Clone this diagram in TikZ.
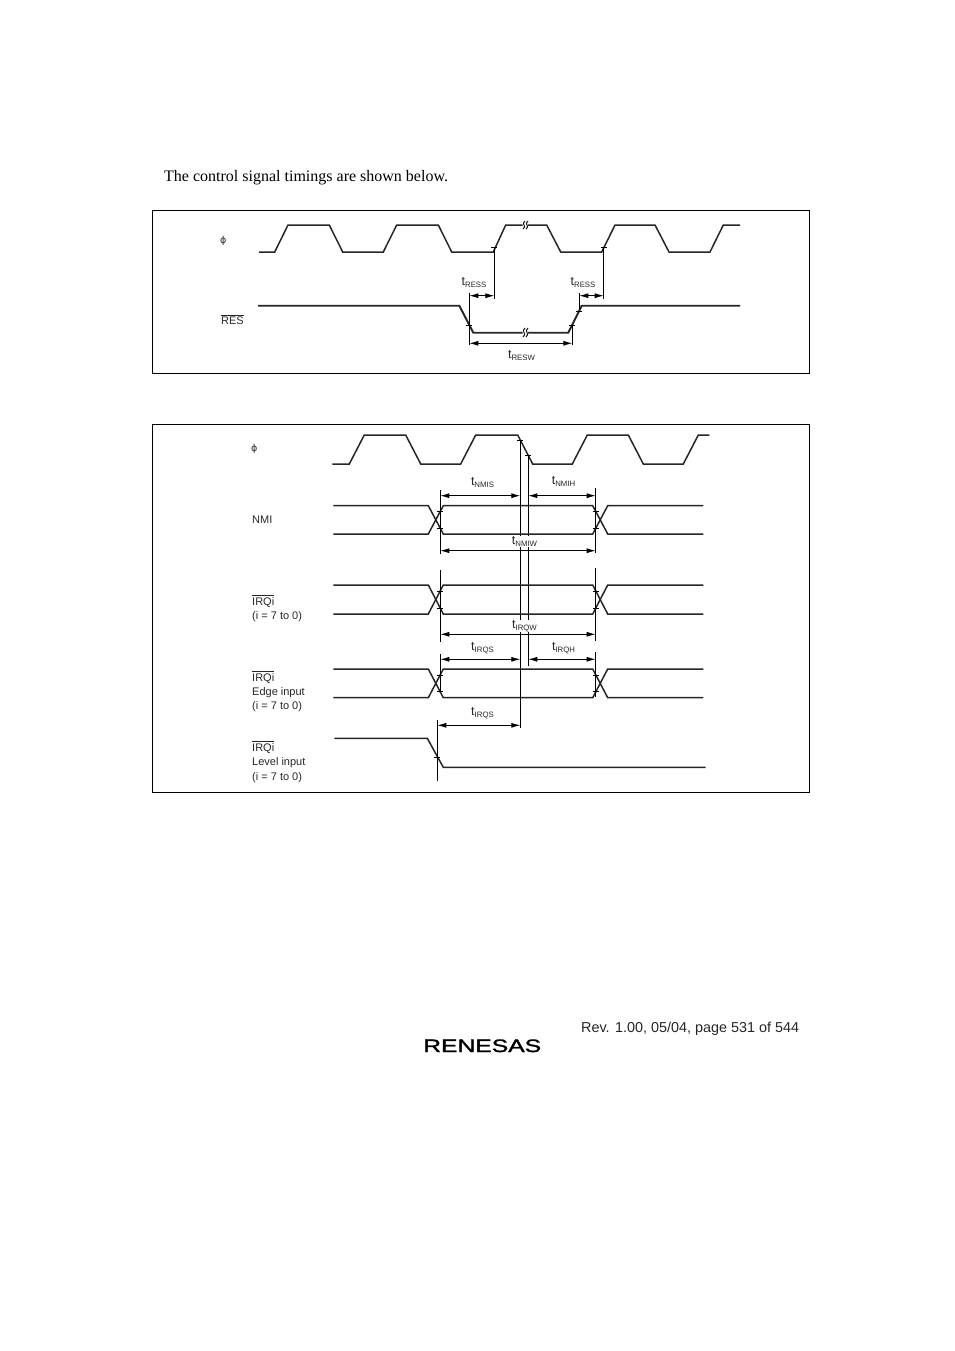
\documentclass[tikz,border=0pt]{standalone}
\usepackage{fontspec}
\setmainfont{Liberation Sans}
\newfontfamily\serifface{Liberation Serif}
\newfontfamily\phiface{DejaVu Sans}
\newfontfamily\logoface[FakeBold=1.5]{Liberation Sans}
\usetikzlibrary{arrows.meta}

\newcommand{\tsub}[1]{\fontsize{12.5}{12.5}\selectfont t\raisebox{-2.4pt}{\fontsize{7.8}{8}\selectfont #1}}
\newcommand{\barsig}[1]{$\overline{\mbox{#1}}$}

\tikzset{
  signal/.style={line width=1.5pt, color=black!85},
  guide/.style={line width=0.9pt, color=black},
  span/.style={line width=0.8pt, {Latex[length=9pt,width=5pt]}-{Latex[length=9pt,width=5pt]}},
  frame/.style={line width=0.9pt, color=black},
  timing/.style={font=\fontsize{11}{11}\selectfont, inner sep=0pt, anchor=base, fill=white, text=black!85},
  siglabel/.style={font=\fontsize{11}{11}\selectfont, inner sep=0pt, anchor=base west, text=black!85},
}

\begin{document}
\begin{tikzpicture}[x=1pt,y=-1pt]
\useasboundingbox (0,0) rectangle (954,1351);

% Heading
\node[anchor=base west, inner sep=0pt, font=\serifface\fontsize{16}{16}\selectfont] (heading) at (164,182)
{The control signal timings are shown below.};

% Reset frame
\draw[frame] (152.5,210.5) rectangle (809.5,373.5);

% Clock, reset frame
\draw[signal] (259,252) -- (274.7,252) -- (288,225) -- (329.3,225) -- (342.7,252) -- (383.3,252) -- (396.7,225) -- (438.3,225) -- (451.7,252) -- (493.3,252) -- (505.7,225) -- (522.5,225);
\draw[signal] (528,225) -- (546.7,225) -- (560.7,252) -- (601.7,252) -- (615,225) -- (655,225) -- (669,252) -- (710,252) -- (723.3,225) -- (740,225);
\draw[guide] (523,229) .. controls (527.5,226) and (520.5,224) .. (525,221);
\draw[guide] (526,229) .. controls (530.5,226) and (523.5,224) .. (528,221);
\node[siglabel, font=\phiface\fontsize{9.5}{9.5}\selectfont] (phireset) at (220,243.5) {ϕ};

% RES
\draw[signal, line width=1.9pt] (258,305.7) -- (459.3,305.7) -- (473.3,332.7) -- (522.5,332.7);
\draw[signal, line width=1.9pt] (528,332.7) -- (568.3,332.7) -- (581.7,305.7) -- (740,305.7);
\draw[guide] (523,337) .. controls (527.5,334) and (520.5,331) .. (525,328);
\draw[guide] (526,337) .. controls (530.5,334) and (523.5,331) .. (528,328);
\node[siglabel] (res) at (221,324) {\barsig{RES}};

% tRESS and tRESW
\coordinate (a1) at (469.3,295.7);
\coordinate (a2) at (494.3,295.7);
\coordinate (a3) at (579.3,295.7);
\coordinate (a4) at (603.7,295.7);
\coordinate (b1) at (469.3,343.3);
\coordinate (b2) at (572.3,343.3);
\draw[guide] (494.3,247) -- ++(0,52);
\draw[guide] (603.7,247) -- ++(0,52);
\draw[guide] (469.3,293) -- ++(0,52);
\draw[guide] (579.3,293) -- ++(0,17);
\draw[guide] (572.3,325) -- ++(0,20);
\draw[guide] (491.3,247) -- ++(6,0);
\draw[guide] (600.7,247) -- ++(6,0);
\draw[guide] (466.3,325.5) -- ++(6,0);
\draw[guide] (569.3,325.5) -- ++(6,0);
\draw[guide] (576.3,311) -- ++(6,0);
\draw[span] (a1) -- (a2);
\draw[span] (a3) -- (a4);
\draw[span] (b1) -- (b2);
\node[timing] (tress1) at (474,285.5) {\tsub{RESS}};
\node[timing] (tress2) at (583,285.5) {\tsub{RESS}};
\node[timing] (tresw) at (521.5,358) {\tsub{RESW}};

% Interrupt frame
\draw[frame] (152.5,424.5) rectangle (809.5,792.5);

% Clock, interrupt frame
\draw[signal] (332.3,464) -- (349.3,464) -- (364.3,435) -- (405.7,435) -- (420.7,464) -- (460.7,464) -- (475.7,435) -- (517.7,435) -- (532.7,464) -- (572.3,464) -- (587.3,435) -- (628.3,435) -- (643.3,464) -- (683.3,464) -- (698.3,435) -- (709.3,435);
\node[siglabel, font=\phiface\fontsize{9.5}{9.5}\selectfont] (phiint) at (251,451) {ϕ};

% Long guides behind the labels
\draw[guide] (520.3,440.7) -- (520.3,728.3);
\draw[guide] (528.3,455.7) -- (528.3,665.7);
\draw[guide] (517.3,440.7) -- ++(6,0);
\draw[guide] (525.3,455.7) -- ++(6,0);

% NMI, IRQi, IRQi edge
\foreach \up/\lo in {505.7/534, 585/614, 669/697.7} {
  \draw[signal] (333.3,\up) -- (428.3,\up) -- (443.3,\lo) -- (592.7,\lo) -- (607.7,\up) -- (703.3,\up);
  \draw[signal] (333.3,\lo) -- (428.3,\lo) -- (443.3,\up) -- (592.7,\up) -- (607.7,\lo) -- (703.3,\lo);
  \draw[guide] (437.3,\up+6) -- ++(6,0);
  \draw[guide] (437.3,\lo-6) -- ++(6,0);
  \draw[guide] (592.7,\up+6) -- ++(6,0);
  \draw[guide] (592.7,\lo-6) -- ++(6,0);
}
\node[siglabel] (nmi) at (252,523) {NMI};
\node[siglabel] (irq) at (252,605) {\barsig{IRQi}};
\node[siglabel] (irqrange) at (252,619) {(i = 7 to 0)};
\node[siglabel] (edge) at (252,681) {\barsig{IRQi}};
\node[siglabel] (edgename) at (252,695) {Edge input};
\node[siglabel] (edgerange) at (252,709) {(i = 7 to 0)};

% IRQi level
\draw[signal] (334.3,738.3) -- (427.3,738.3) -- (443.3,767.3) -- (705.7,767.3);
\draw[guide] (437.3,720) -- (437.3,780.7);
\draw[guide] (434.3,757) -- ++(6,0);
\node[siglabel] (level) at (252,751) {\barsig{IRQi}};
\node[siglabel] (levelname) at (252,765) {Level input};
\node[siglabel] (levelrange) at (252,780) {(i = 7 to 0)};

% Guides at the crossings
\draw[guide] (440.3,490) -- (440.3,554.3);
\draw[guide] (595.7,488) -- (595.7,553);
\draw[guide] (440.3,570) -- (440.3,641.7);
\draw[guide] (595.7,568.3) -- (595.7,640.7);
\draw[guide] (440.3,654) -- (440.3,692);
\draw[guide] (595.7,652.3) -- (595.7,696.7);

% Interrupt timings
\coordinate (c1) at (440.3,495.7);
\coordinate (c2) at (520.3,495.7);
\coordinate (c3) at (528.3,495.7);
\coordinate (c4) at (595.7,495.7);
\coordinate (d1) at (440.3,550.7);
\coordinate (d2) at (595.7,550.7);
\coordinate (e1) at (440.3,634.3);
\coordinate (e2) at (595.7,634.3);
\coordinate (f1) at (440.3,659.3);
\coordinate (f2) at (520.3,659.3);
\coordinate (f3) at (528.3,659.3);
\coordinate (f4) at (595.7,659.3);
\coordinate (g1) at (437.3,725.3);
\coordinate (g2) at (520.3,725.3);
\node[timing] (tnmis) at (482.5,485) {\tsub{NMIS}};
\node[timing] (tnmih) at (563.5,484) {\tsub{NMIH}};
\node[timing] (tnmiw) at (524.5,544.5) {\tsub{NMIW}};
\node[timing] (tirqw) at (524.5,628.5) {\tsub{IRQW}};
\node[timing] (tirqs1) at (482.5,650) {\tsub{IRQS}};
\node[timing] (tirqh) at (563.5,650) {\tsub{IRQH}};
\node[timing] (tirqs2) at (482.5,715) {\tsub{IRQS}};
\draw[span] (c1) -- (c2);
\draw[span] (c3) -- (c4);
\draw[span] (d1) -- (d2);
\draw[span] (e1) -- (e2);
\draw[span] (f1) -- (f2);
\draw[span] (f3) -- (f4);
\draw[span] (g1) -- (g2);

% Footer
\node[anchor=base west, inner sep=0pt, font=\fontsize{14.4}{14.4}\selectfont, text=black!85] (footer) at (581,1032)
{Rev. 1.00, 05/04, page 531 of 544};
\node[anchor=base west, inner sep=0pt, xscale=1.37, font=\logoface\fontsize{18}{18}\selectfont] (logo) at (423,1052)
{RENESAS};

\end{tikzpicture}
\end{document}
